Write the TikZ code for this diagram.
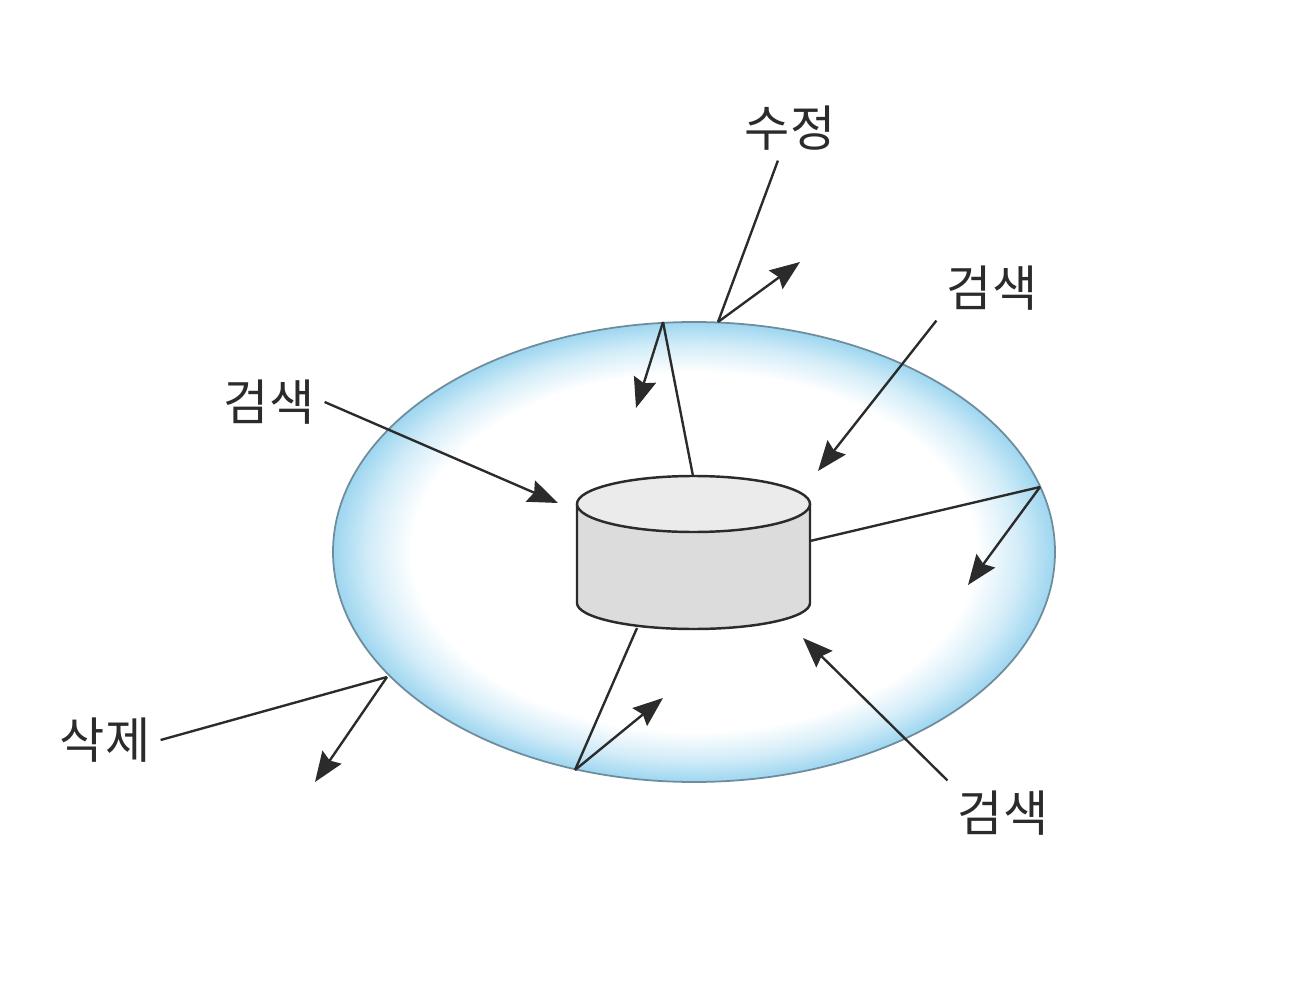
\documentclass[tikz,border=0pt]{standalone}
\usepackage{fontspec}
\newfontfamily\krfont{Noto Sans CJK KR}
\usetikzlibrary{arrows.meta}
\definecolor{ringblue}{HTML}{9DD6F0}
\definecolor{ringline}{HTML}{6F8C9C}
\definecolor{cyltopc}{HTML}{EBEBEB}
\definecolor{cylsidec}{HTML}{DCDCDC}
\definecolor{ink}{HTML}{2B2B2B}
\pgfdeclareradialshading{ringshade}{\pgfpoint{0bp}{0bp}}{color(0bp)=(white); color(19.5bp)=(white); color(22.5bp)=(ringblue!45); color(25bp)=(ringblue); color(50bp)=(ringblue)}
\begin{document}
\begin{tikzpicture}[x=0.02cm,y=-0.02cm,
  lbl/.style={font=\krfont\fontsize{28}{32}\selectfont, text=ink, inner sep=0.2cm},
  conn/.style={draw=ink, line width=1.35pt},
  arr/.style={conn, -{Stealth[length=0.6cm,width=0.46cm,inset=0.08cm]}},
  ringstyle/.style={shading=ringshade, draw=ringline, line width=1pt},
  cylbody/.style={fill=cylsidec, draw=ink, line width=1.4pt, line join=round},
  cyllid/.style={fill=cyltopc, draw=ink, line width=1.4pt}
]
\useasboundingbox (0,0) rectangle (1300,999);
% ring (data store environment)
\path[ringstyle] (694,552) ellipse [x radius=361, y radius=230];
% cylinder (database)
\path[cylbody] (577,504) -- (577,603) arc[start angle=180, end angle=0, x radius=116.5, y radius=26] -- (810,504) -- cycle;
\path[cyllid] (693.5,504) ellipse [x radius=116.5, y radius=28];
% points on the cylinder
\coordinate (cT) at (693,476);
\coordinate (cR) at (810,541);
\coordinate (cB) at (637,628);
% points on the ring
\coordinate (pA) at (718,322);
\coordinate (pB) at (663,322);
\coordinate (pC) at (1040,487);
\coordinate (pD) at (575,770);
\coordinate (pE) at (387,677);
% arrow tips
\coordinate (tA) at (800,262);
\coordinate (tB) at (636,408);
\coordinate (tC) at (968,585);
\coordinate (tD) at (663,698);
\coordinate (tE) at (315,782);
\coordinate (tL) at (558,503);
\coordinate (tR) at (818,471);
\coordinate (tBR) at (803,638);
% labels
\node[lbl] (mod) at (790,128) {수정};
\node[lbl] (s1) at (269,402) {검색};
\node[lbl] (s2) at (992,288) {검색};
\node[lbl] (s3) at (1003,813) {검색};
\node[lbl] (del) at (105,740) {삭제};
% connectors
\draw[conn] (mod) -- (pA);
\draw[arr] (pA) -- (tA);
\draw[conn] (cT) -- (pB);
\draw[arr] (pB) -- (tB);
\draw[conn] (cR) -- (pC);
\draw[arr] (pC) -- (tC);
\draw[conn] (cB) -- (pD);
\draw[arr] (pD) -- (tD);
\draw[conn] (del.east) -- (pE);
\draw[arr] (pE) -- (tE);
\draw[arr] (s1.east) -- (tL);
\draw[arr] (s2.south west) -- (tR);
\draw[arr] (s3.north west) -- (tBR);
\end{tikzpicture}
\end{document}
